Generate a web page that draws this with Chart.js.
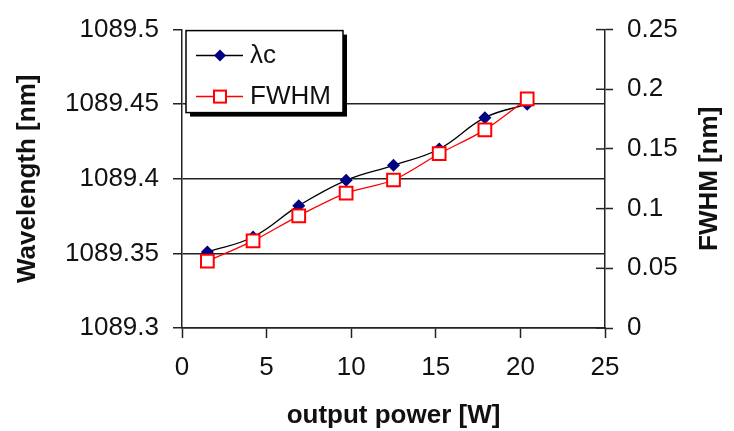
<!DOCTYPE html>
<html>
<head>
<meta charset="utf-8">
<script src="https://cdn.jsdelivr.net/npm/chart.js@4/dist/chart.umd.min.js"></script>
<style>
  html, body { margin: 0; padding: 0; background: #fff; }
  #wrap { width: 734px; height: 431px; }
</style>
</head>
<body>
<div id="wrap"><canvas id="chart" width="734" height="431"></canvas></div>
<script>
// output power [W]
const power = [1.5, 4.2, 6.9, 9.7, 12.5, 15.2, 17.9, 20.4];
// centre wavelength [nm]
const lambdaC = [1089.351, 1089.361, 1089.382, 1089.399, 1089.409, 1089.42, 1089.441, 1089.45];
// FWHM [nm]
const fwhm = [0.056, 0.073, 0.094, 0.113, 0.124, 0.146, 0.166, 0.192];

const seriesNames = ["\u03bbc", "FWHM"];
const xTitle = "output power [W]";
const yTitle = "Wavelength [nm]";
const y2Title = "FWHM [nm]";

const FONT = "'Liberation Sans', Arial, sans-serif";

function toPoints(xs, ys) {
    return xs.map((x, i) => ({ x: x, y: ys[i] }));
}

function fmt(v) {
    return String(Number(v.toFixed(3)));
}

// axis titles (right one reads bottom-to-top like the original)
const axisTitles = {
    id: "axisTitles",
    afterDraw(chart) {
        const ctx = chart.ctx;
        const a = chart.chartArea;
        const midY = (a.top + a.bottom) / 2;
        ctx.save();
        ctx.fillStyle = "#111";
        ctx.font = "bold 26px " + FONT;
        ctx.textAlign = "center";
        ctx.textBaseline = "middle";
        ctx.fillText(xTitle, (a.left + a.right) / 2, 416);

        ctx.save();
        ctx.translate(28, midY);
        ctx.rotate(-Math.PI / 2);
        ctx.fillText(yTitle, 0, 0);
        ctx.restore();

        ctx.save();
        ctx.translate(710, midY);
        ctx.rotate(-Math.PI / 2);
        ctx.fillText(y2Title, 0, 0);
        ctx.restore();

        // right axis ticks cross the axis line
        const y2 = chart.scales.y2;
        ctx.strokeStyle = "#222";
        ctx.lineWidth = 1.5;
        y2.ticks.forEach((t, i) => {
            const py = y2.getPixelForTick(i);
            ctx.beginPath();
            ctx.moveTo(a.right - 9, py);
            ctx.lineTo(a.right, py);
            ctx.stroke();
        });
        ctx.restore();
    }
};

// boxed legend with shadow inside the plot
const legendBox = {
    id: "legendBox",
    afterDraw(chart) {
        const ctx = chart.ctx;
        const a = chart.chartArea;
        const bx = a.left + 4, by = a.top + 1, bw = 157, bh = 82;
        ctx.save();
        ctx.fillStyle = "#000";
        ctx.fillRect(bx + 4, by + 4, bw, bh);
        ctx.fillStyle = "#fff";
        ctx.fillRect(bx, by, bw, bh);
        ctx.strokeStyle = "#000";
        ctx.lineWidth = 1.5;
        ctx.strokeRect(bx, by, bw, bh);

        const rows = [by + 25, by + 66];
        // lambda c
        ctx.strokeStyle = "#000";
        ctx.lineWidth = 1.5;
        ctx.beginPath();
        ctx.moveTo(bx + 10, rows[0]);
        ctx.lineTo(bx + 57, rows[0]);
        ctx.stroke();
        ctx.fillStyle = "#000080";
        ctx.beginPath();
        ctx.moveTo(bx + 34, rows[0] - 6);
        ctx.lineTo(bx + 40, rows[0]);
        ctx.lineTo(bx + 34, rows[0] + 6);
        ctx.lineTo(bx + 28, rows[0]);
        ctx.closePath();
        ctx.fill();
        // FWHM
        ctx.strokeStyle = "#ff0000";
        ctx.beginPath();
        ctx.moveTo(bx + 10, rows[1]);
        ctx.lineTo(bx + 57, rows[1]);
        ctx.stroke();
        ctx.fillStyle = "#fff";
        ctx.fillRect(bx + 28, rows[1] - 6, 12, 12);
        ctx.lineWidth = 2;
        ctx.strokeRect(bx + 28, rows[1] - 6, 12, 12);

        ctx.fillStyle = "#111";
        ctx.font = "26px " + FONT;
        ctx.textAlign = "left";
        ctx.textBaseline = "middle";
        ctx.fillText(seriesNames[0], bx + 64, rows[0]);
        ctx.fillText(seriesNames[1], bx + 64, rows[1]);
        ctx.restore();
    }
};

new Chart(document.getElementById("chart"), {
    type: "line",
    data: {
        datasets: [
            {
                label: seriesNames[0],
                data: toPoints(power, lambdaC),
                yAxisID: "y",
                borderColor: "#000",
                borderWidth: 1.3,
                backgroundColor: "#000080",
                pointStyle: "rectRot",
                pointRadius: 6.5,
                pointBorderWidth: 0,
                pointBackgroundColor: "#000080",
                tension: 0.4,
                order: 2,
            },
            {
                label: seriesNames[1],
                data: toPoints(power, fwhm),
                yAxisID: "y2",
                borderColor: "#ff0000",
                borderWidth: 1.3,
                pointStyle: "rect",
                pointRadius: 9,
                pointBorderWidth: 2,
                pointBorderColor: "#ff0000",
                pointBackgroundColor: "#fff",
                tension: 0.3,
                order: 1,
            },
        ],
    },
    options: {
        responsive: false,
        animation: false,
        layout: { padding: { top: 24, left: 0, right: 0, bottom: 0 } },
        plugins: {
            legend: { display: false },
            tooltip: { enabled: false },
        },
        scales: {
            x: {
                type: "linear",
                min: 0,
                max: 25,
                ticks: {
                    stepSize: 5,
                    color: "#111",
                    padding: 14,
                    font: { family: FONT, size: 26 },
                    maxRotation: 0,
                },
                grid: { drawOnChartArea: false, tickLength: 10, tickColor: "#222", tickWidth: 1.5 },
                border: { color: "#222", width: 1.5 },
                afterFit: function (s) { s.height = 103; },
            },
            y: {
                type: "linear",
                position: "left",
                min: 1089.3,
                max: 1089.5,
                ticks: {
                    stepSize: 0.05,
                    color: "#111",
                    padding: 14,
                    font: { family: FONT, size: 26 },
                    callback: function (v) { return fmt(v); },
                },
                grid: {
                    color: function (c) {
                        return c.tick && c.tick.value > 1089.49 ? "rgba(0,0,0,0)" : "#222";
                    },
                    lineWidth: 1.5,
                    tickLength: 9,
                    tickColor: "#222",
                    tickWidth: 1.5,
                },
                border: { color: "#222", width: 1.5 },
                afterFit: function (s) { s.width = 182; },
            },
            y2: {
                type: "linear",
                position: "right",
                min: 0,
                max: 0.25,
                ticks: {
                    stepSize: 0.05,
                    color: "#111",
                    padding: 14,
                    font: { family: FONT, size: 26 },
                    callback: function (v) { return fmt(v); },
                },
                grid: { drawOnChartArea: false, tickLength: 8, tickColor: "#222", tickWidth: 1.5 },
                border: { color: "#222", width: 1.5 },
                afterFit: function (s) { s.width = 129; },
            },
        },
    },
    plugins: [axisTitles, legendBox],
});
</script>
</body>
</html>
